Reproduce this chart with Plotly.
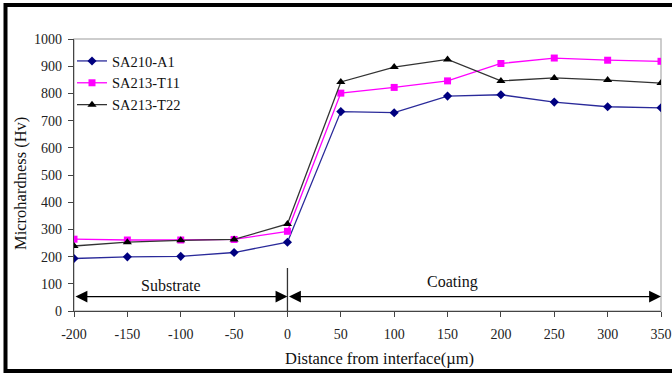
import plotly.graph_objects as go

distance = [-200, -150, -100, -50, 0, 50, 100, 150, 200, 250, 300, 350]
sa210_a1 = [193, 199, 201, 215, 253, 733, 729, 790, 795, 768, 751, 747]
sa213_t11 = [264, 261, 261, 263, 293, 801, 822, 846, 910, 930, 922, 918]
sa213_t22 = [239, 253, 260, 263, 320, 842, 897, 925, 846, 857, 849, 838]
x_ticks = [-200, -150, -100, -50, 0, 50, 100, 150, 200, 250, 300, 350]
y_ticks = [0, 100, 200, 300, 400, 500, 600, 700, 800, 900, 1000]

FONT = "Liberation Serif"
W, H = 672, 374
L, R, T, B = 74, 11, 39, 63
pw, ph = W - L - R, H - T - B

def px2paper_x(px):
    return (px - L) / pw

def px2paper_y(py):
    return (H - B - py) / ph

fig = go.Figure()
fig.add_trace(go.Scatter(x=distance, y=sa210_a1, name="SA210-A1", mode="lines+markers",
                         line=dict(color="#2a2a9a", width=1.3),
                         marker=dict(symbol="diamond", size=7, color="#000080")))
fig.add_trace(go.Scatter(x=distance, y=sa213_t11, name="SA213-T11", mode="lines+markers",
                         line=dict(color="#ff00ff", width=1.3),
                         marker=dict(symbol="square", size=7, color="#ff00ff")))
fig.add_trace(go.Scatter(x=distance, y=sa213_t22, name="SA213-T22", mode="lines+markers",
                         line=dict(color="#333333", width=1.3),
                         marker=dict(symbol="triangle-up", size=8, color="#000000")))

shapes = [
    dict(type="rect", xref="paper", yref="paper", x0=0, x1=1, y0=0, y1=1,
         line=dict(color="#bdbdbd", width=1.5), layer="below"),
    dict(type="line", xref="x", yref="y", x0=0, x1=0, y0=0, y1=158,
         line=dict(color="#333333", width=1.3)),
    dict(type="rect", xref="paper", yref="paper",
         x0=px2paper_x(5.5), x1=px2paper_x(676), y0=px2paper_y(371), y1=px2paper_y(5),
         line=dict(color="#000000", width=4)),
]

annotations = [
    dict(x=0, y=53, ax=-200, ay=53, xref="x", yref="y", axref="x", ayref="y",
         showarrow=True, arrowhead=2, startarrowhead=2, arrowside="end+start",
         arrowsize=1.7, startarrowsize=1.7, arrowwidth=1.4, arrowcolor="#000000", text=""),
    dict(x=350, y=53, ax=0, ay=53, xref="x", yref="y", axref="x", ayref="y",
         showarrow=True, arrowhead=2, startarrowhead=2, arrowside="end+start",
         arrowsize=1.7, startarrowsize=1.7, arrowwidth=1.4, arrowcolor="#000000", text=""),
    dict(x=-109, y=92, xref="x", yref="y", text="Substrate", showarrow=False,
         font=dict(family=FONT, size=16, color="#111111")),
    dict(x=155, y=108, xref="x", yref="y", text="Coating", showarrow=False,
         font=dict(family=FONT, size=16, color="#111111")),
    dict(x=px2paper_x(379), y=px2paper_y(358), xref="paper", yref="paper",
         text="Distance from interface(µm)", showarrow=False,
         xanchor="center", yanchor="middle",
         font=dict(family=FONT, size=16.5, color="#111111")),
    dict(x=px2paper_x(20), y=px2paper_y(184), xref="paper", yref="paper",
         text="Microhardness (Hv)", showarrow=False, textangle=-90,
         xanchor="center", yanchor="middle",
         font=dict(family=FONT, size=16.5, color="#111111")),
]

fig.update_layout(
    width=W, height=H,
    margin=dict(l=L, r=R, t=T, b=B, autoexpand=False),
    paper_bgcolor="white", plot_bgcolor="white",
    font=dict(family=FONT, size=14, color="#222222"),
    showlegend=True,
    legend=dict(x=px2paper_x(72), y=px2paper_y(45), xanchor="left", yanchor="top",
                bgcolor="rgba(0,0,0,0)", font=dict(family=FONT, size=14.5, color="#111111"),
                tracegroupgap=0),
    shapes=shapes,
    annotations=annotations,
)
fig.update_xaxes(range=[-200, 350], tickvals=x_ticks, ticktext=[str(v) for v in x_ticks],
                 automargin=False,
                 showgrid=False, zeroline=False, showline=True, linecolor="#444444", linewidth=1.3,
                 ticks="outside", ticklen=5, tickcolor="#444444", ticklabelstandoff=5,
                 tickfont=dict(family=FONT, size=14, color="#222222"))
fig.update_yaxes(range=[0, 1000], tickvals=y_ticks, ticktext=[str(v) for v in y_ticks],
                 automargin=False,
                 showgrid=False, zeroline=False, showline=True, linecolor="#444444", linewidth=1.3,
                 ticks="outside", ticklen=5, tickcolor="#444444", ticklabelstandoff=3,
                 tickfont=dict(family=FONT, size=14, color="#222222"))

fig.write_html("out.html", config={"displayModeBar": False},
               post_script="document.body.style.margin='0';document.body.style.padding='0';document.body.style.overflow='hidden';")
